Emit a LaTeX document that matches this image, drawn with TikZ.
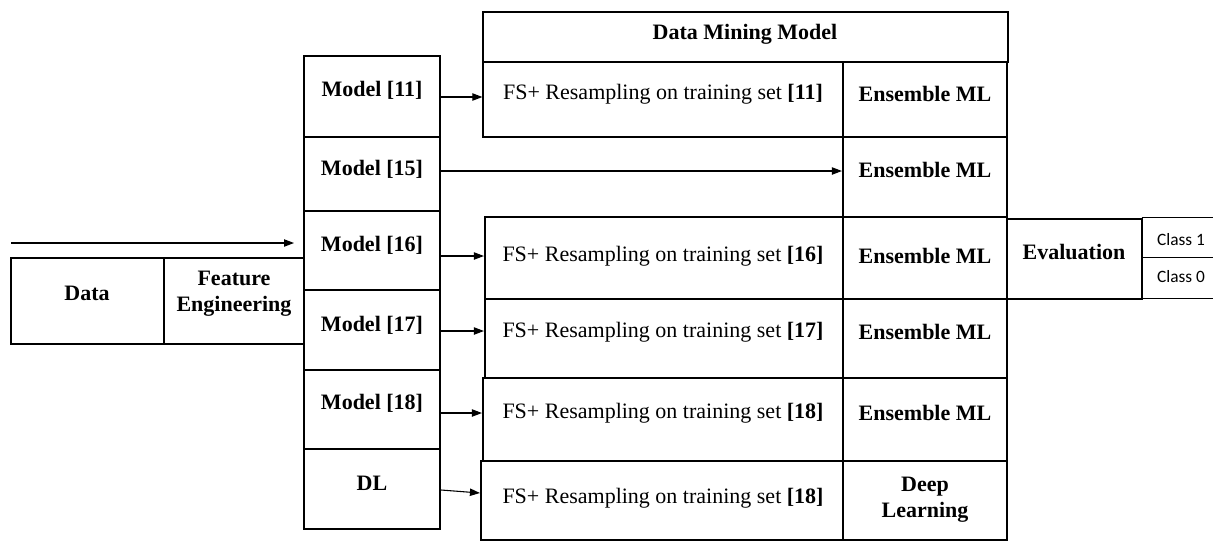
\documentclass[tikz,border=0pt]{standalone}
\usepackage{fontspec}
\setmainfont{Liberation Serif}
\newfontfamily\calib{Carlito}
\usetikzlibrary{arrows.meta,fit}
\begin{document}
\begin{tikzpicture}[x=0.75pt,y=-0.75pt,
  cell/.style={draw, line width=1.6pt, inner sep=0pt},
  thincell/.style={draw, line width=0.9pt, inner sep=0pt},
  blank/.style={inner sep=0pt},
  lbl/.style={font=\fontsize{16.5}{19.5}\selectfont\bfseries, align=center, inner sep=0pt},
  fstxt/.style={font=\fontsize{16.5}{19.5}\selectfont, inner sep=0pt},
  cls/.style={font=\calib\fontsize{13}{15}\selectfont, inner sep=0pt},
  arr/.style={line width=0.8pt, -{Triangle[length=7.5pt,width=5.5pt]}},
  sep/.style={line width=0.8pt}
]
\useasboundingbox (0,0) rectangle (1213,544);

% Data mining model block
\node[thincell, fit={(483,12) (1008,62)}] (hdr) {};
\node[thincell, fit={(483,62) (843,137)}] (fs1) {};
\node[cell, fit={(843,62) (1007,137)}] (e1) {};
\node[cell, fit={(843,137) (1007,217)}] (e2) {};
\node[cell, fit={(485,217) (843,299)}] (fs3) {};
\node[cell, fit={(843,217) (1007,299)}] (e3) {};
\node[cell, fit={(1007,219) (1142,299)}] (ev) {};
\node[blank, fit={(1142,218) (1213,257)}] (c1) {};
\node[blank, fit={(1142,257) (1213,298)}] (c0) {};
\node[cell, fit={(485,299) (843,378)}] (fs4) {};
\node[cell, fit={(843,299) (1007,378)}] (e4) {};
\node[cell, fit={(483,378) (843,461)}] (fs5) {};
\node[cell, fit={(843,378) (1007,461)}] (e5) {};
\node[cell, fit={(481,461) (843,540)}] (fs6) {};
\node[cell, fit={(843,461) (1007,540)}] (e6) {};

% class lines
\draw[sep] (c1.north west) -- (c1.north east);
\draw[sep] (c1.south west) -- (c1.south east);
\draw[sep] (c0.south west) -- (c0.south east);

% model column
\node[cell, fit={(304,56) (440,137)}] (m11) {};
\node[cell, fit={(304,137) (440,211)}] (m15) {};
\node[cell, fit={(304,211) (440,290)}] (m16) {};
\node[cell, fit={(304,290) (440,370)}] (m17) {};
\node[cell, fit={(304,370) (440,449)}] (m18) {};
\node[cell, fit={(304,449) (440,529)}] (dl) {};

% data / feature engineering
\node[cell, fit={(11,258) (164,344)}] (data) {};
\node[cell, fit={(164,258) (304,344)}] (fe) {};

% texts
\node[lbl] (thdr) at (745,34) {Data Mining Model};
\node[fstxt] (tfs1) at (663,94) {FS+ Resampling on training set \textbf{[11]}};
\node[lbl] (te1) at (925,94) {Ensemble ML};
\node[lbl] (te2) at (925,170) {Ensemble ML};
\node[fstxt] (tfs3) at (663,256) {FS+ Resampling on training set \textbf{[16]}};
\node[lbl] (te3) at (925,256) {Ensemble ML};
\node[lbl] (tev) at (1074,252) {Evaluation};
\node[cls] (tc1) at (1181,240) {Class 1};
\node[cls] (tc0) at (1181,277) {Class 0};
\node[fstxt] (tfs4) at (663,332) {FS+ Resampling on training set \textbf{[17]}};
\node[lbl] (te4) at (925,332) {Ensemble ML};
\node[fstxt] (tfs5) at (663,413) {FS+ Resampling on training set \textbf{[18]}};
\node[lbl] (te5) at (925,413) {Ensemble ML};
\node[fstxt] (tfs6) at (663,498) {FS+ Resampling on training set \textbf{[18]}};
\node[lbl] (te6) at (925,500) {Deep\\Learning};

\node[lbl] (tm11) at (372,90) {Model [11]};
\node[lbl] (tm15) at (372,169) {Model [15]};
\node[lbl] (tm16) at (372,245) {Model [16]};
\node[lbl] (tm17) at (372,325) {Model [17]};
\node[lbl] (tm18) at (372,403) {Model [18]};
\node[lbl] (tdl) at (372,483) {DL};
\node[lbl] (tdata) at (87,293) {Data};
\node[lbl] (tfe) at (234,294) {Feature\\Engineering};

% arrows
\coordinate (in0) at (11,243);
\coordinate (in1) at (294,243);
\draw[arr] (in0) -- (in1);
\draw[arr] (m11.east |- 0,97) -- (fs1.west |- 0,97);
\draw[arr] (m15.east |- 0,171) -- (e2.west |- 0,171);
\draw[arr] (m16.east |- 0,256) -- (fs3.west |- 0,256);
\draw[arr] (m17.east |- 0,331) -- (fs4.west |- 0,331);
\draw[arr] (m18.east |- 0,413) -- (fs5.west |- 0,413);
\draw[arr] (dl.east |- 0,490) -- (fs6.west |- 0,493);
\end{tikzpicture}
\end{document}
